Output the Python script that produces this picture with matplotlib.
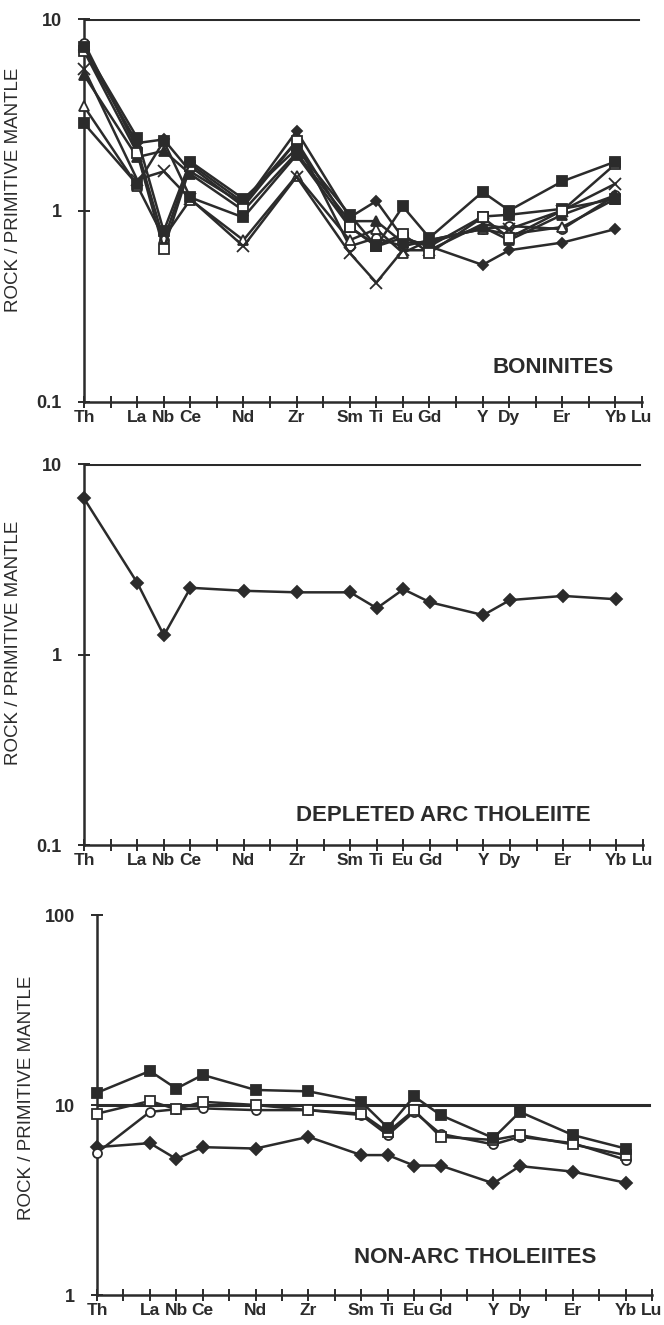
import matplotlib
matplotlib.use('Agg')
import matplotlib.pyplot as plt

plt.rcParams['font.family'] = ['Liberation Sans', 'DejaVu Sans']

#%% data
elements = ['Th', 'La', 'Nb', 'Ce', 'Nd', 'Zr', 'Sm', 'Ti', 'Eu', 'Gd', 'Y', 'Dy', 'Er', 'Yb']
elem_pos = [0, 2, 3, 4, 6, 8, 10, 11, 12, 13, 15, 16, 18, 20]
tick_labels = elements + ['Lu']
tick_pos = elem_pos + [21]

# boninites (rock / primitive mantle)
bon_a = [7.1, 2.4, 0.78, 1.8, 1.15, 2.1, 0.95, 0.65, 1.05, 0.72, 1.25, 1.0, 1.42, 1.8]
bon_b = [6.8, 2.0, 0.63, 1.7, 1.05, 2.3, 0.82, 0.66, 0.75, 0.6, 0.92, 0.72, 1.0, 1.75]
bon_c = [5.5, 1.45, 1.6, 1.15, 0.65, 1.5, 0.6, 0.42, 0.62, 0.62, 0.85, 0.8, 1.0, 1.38]
bon_d = [5.1, 1.9, 2.05, 1.55, 1.0, 2.0, 0.88, 0.88, 0.68, 0.68, 0.82, 0.7, 0.95, 1.2]
bon_e = [3.5, 1.35, 0.72, 1.14, 0.7, 1.52, 0.7, 0.8, 0.6, 0.7, 0.8, 0.75, 0.82, 1.15]
bon_f = [2.85, 1.37, 2.3, 1.17, 0.92, 1.95, 0.82, 0.65, 0.72, 0.65, 0.93, 0.95, 1.02, 1.15]
bon_g = [6.9, 2.25, 2.35, 1.6, 1.08, 2.6, 0.92, 1.12, 0.72, 0.65, 0.52, 0.62, 0.68, 0.8]
bon_h = [7.5, 2.1, 0.7, 1.75, 1.1, 2.3, 0.65, 0.72, 0.65, 0.7, 0.8, 0.83, 0.8, 1.2]

# depleted arc tholeiite
dat = [6.6, 2.38, 1.26, 2.24, 2.16, 2.12, 2.12, 1.75, 2.2, 1.88, 1.61, 1.93, 2.03, 1.95]

# non-arc tholeiites
nat_a = [11.6, 15.1, 12.2, 14.4, 12.0, 11.8, 10.4, 7.6, 11.1, 8.85, 6.7, 9.2, 6.95, 5.9]
nat_b = [9.0, 10.5, 9.5, 10.4, 10.0, 9.4, 9.0, 7.2, 9.4, 6.8, 6.55, 6.95, 6.2, 5.45]
nat_c = [5.6, 9.2, 9.5, 9.6, 9.4, 9.4, 8.85, 6.95, 9.2, 7.05, 6.2, 6.8, 6.3, 5.15]
nat_d = [6.0, 6.3, 5.2, 6.0, 5.9, 6.8, 5.45, 5.45, 4.8, 4.8, 3.87, 4.77, 4.46, 3.9]

ink = '#2b2b2b'

#%% helpers
def draw(ax, vals, marker, filled, ms=6.5):
    ax.plot(elem_pos, vals, color=ink, lw=1.8, marker=marker, ms=ms,
            mfc=ink if filled else 'white', mec=ink, mew=1.3, clip_on=False, zorder=3)

def style(ax, ylim, yticks, yticklabels, ref_x, ylab_y):
    ax.set_yscale('log')
    ax.set_xlim(0, 21)
    ax.set_ylim(*ylim)
    for s in ['top', 'right']:
        ax.spines[s].set_visible(False)
    for s in ['left', 'bottom']:
        ax.spines[s].set_linewidth(1.8)
        ax.spines[s].set_color(ink)
    ax.axhline(10, xmin=0, xmax=ref_x / 21, color=ink, lw=2.2, zorder=2)
    # every slot gets a tick, labels only at the element slots
    ax.xaxis.remove_overlapping_locs = False
    ax.set_xticks(range(22))
    ax.set_xticklabels([])
    ax.set_xticks(tick_pos, minor=True)
    ax.set_xticklabels(tick_labels, minor=True, fontsize=12.5, fontweight='bold')
    ax.tick_params(axis='x', which='major', direction='inout', length=8, width=1.4, color=ink)
    ax.tick_params(axis='x', which='minor', length=0, pad=6, labelcolor=ink)
    ax.set_yticks(yticks)
    ax.set_yticklabels(yticklabels, fontsize=13, fontweight='bold')
    ax.yaxis.set_minor_locator(plt.NullLocator())
    ax.tick_params(axis='y', direction='inout', length=8, width=1.4, color=ink, pad=12,
                   labelcolor=ink)
    ax.set_ylabel('ROCK / PRIMITIVE MANTLE', fontsize=13.5, color=ink)
    ax.yaxis.set_label_coords(-62 / 558, ylab_y)

fig = plt.figure(figsize=(6.64, 13.25), dpi=100)
W, H = 664., 1325.

#%% boninites
ax1 = fig.add_axes([84 / W, (H - 402) / H, 558 / W, 383 / H])
draw(ax1, bon_h, 'o', False)
draw(ax1, bon_e, '^', False)
draw(ax1, bon_c, 'x', False, ms=8)
draw(ax1, bon_d, '^', True)
draw(ax1, bon_f, 's', True)
draw(ax1, bon_g, 'D', True, ms=5.5)
draw(ax1, bon_b, 's', False)
draw(ax1, bon_a, 's', True)
style(ax1, (0.1, 10), [0.1, 1, 10], ['0.1', '1', '10'], 20.85, 0.555)
ax1.text(17.65, 0.152, 'BONINITES', fontsize=16, fontweight='bold', color=ink,
         ha='center', va='center')

#%% depleted arc tholeiite
ax2 = fig.add_axes([84 / W, (H - 845) / H, 559 / W, 381 / H])
draw(ax2, dat, 'D', True, ms=6)
style(ax2, (0.1, 10), [0.1, 1, 10], ['0.1', '1', '10'], 20.85, 0.53)
ax2.text(13.5, 0.1435, 'DEPLETED ARC THOLEIITE', fontsize=16, fontweight='bold',
         color=ink, ha='center', va='center')

#%% non-arc tholeiites
ax3 = fig.add_axes([97 / W, (H - 1295) / H, 555 / W, 380 / H])
draw(ax3, nat_d, 'D', True, ms=6)
draw(ax3, nat_c, 'o', False)
draw(ax3, nat_b, 's', False)
draw(ax3, nat_a, 's', True)
style(ax3, (1, 100), [1, 10, 100], ['1', '10', '100'], 20.9, 0.52)
ax3.text(14.3, 1.57, 'NON-ARC THOLEIITES', fontsize=16, fontweight='bold',
         color=ink, ha='center', va='center')

fig.savefig('out.png', dpi=100, facecolor='white')
